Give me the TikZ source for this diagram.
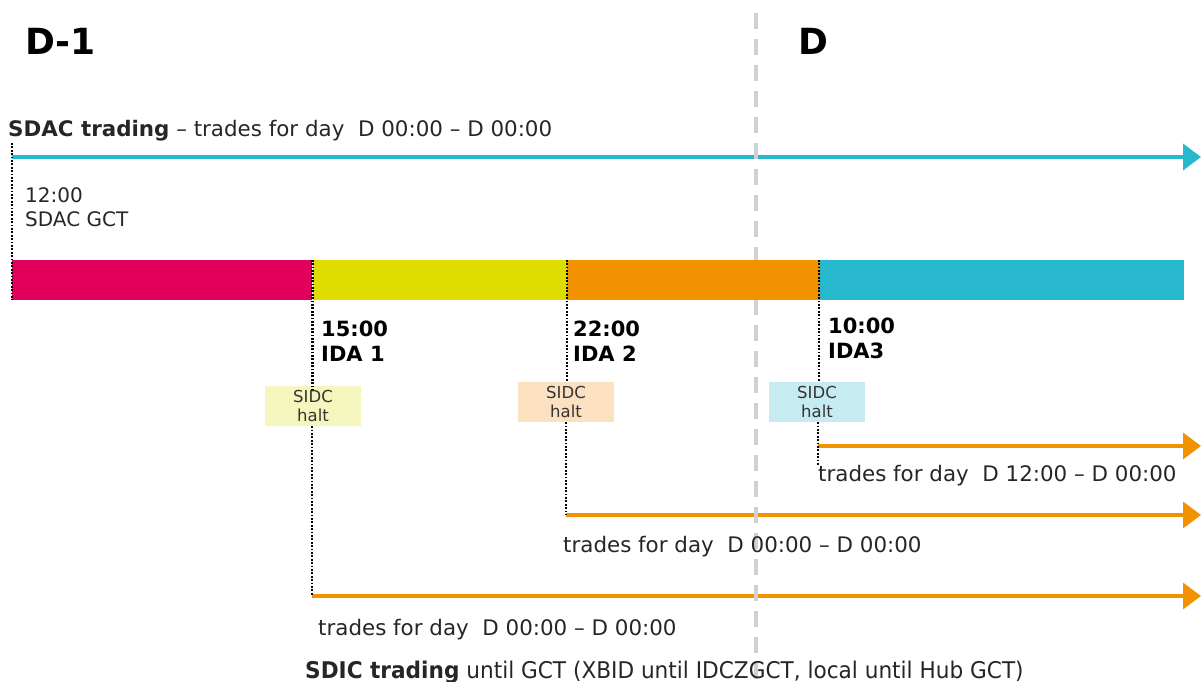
\documentclass[tikz,border=0pt]{standalone}
\usepackage{fontspec}
\setmainfont{DejaVu Sans}
\newfontfamily\narrowfont[FakeStretch=0.94]{DejaVu Sans}
\usetikzlibrary{positioning,arrows.meta}
\definecolor{crim}{HTML}{E2005A}
\definecolor{yel}{HTML}{DEDC00}
\definecolor{org}{HTML}{F39200}
\definecolor{cya}{HTML}{27B8CE}
\definecolor{haltyel}{HTML}{F5F5BE}
\definecolor{haltorg}{HTML}{FBE1C0}
\definecolor{haltcya}{HTML}{C6EBF0}
\tikzset{
	txt/.style={anchor=base west, inner sep=0pt, text=black!85, font=\fontsize{21.4}{24}\selectfont},
	ida/.style={anchor=base west, inner sep=0pt, align=left, font=\bfseries\fontsize{21}{25}\selectfont},
	seg/.style={inner sep=0pt, minimum height=40pt, anchor=west},
	halt/.style={inner sep=0pt, minimum width=96pt, minimum height=40pt, align=center, text=black!80, font=\fontsize{16.5}{19}\selectfont},
	gct/.style={line width=2.2pt, dash pattern=on 1.8pt off 1.6pt},
	sidc/.style={org, line width=3.5pt, -{Triangle[length=18pt,width=26pt]}},
	sdac/.style={cya, line width=4pt, -{Triangle[length=18pt,width=26pt]}},
}
\begin{document}
\begin{tikzpicture}[x=1pt,y=-1pt]
	\useasboundingbox (0,0) rectangle (1201,682);

	\node[ida, font=\bfseries\fontsize{36}{40}\selectfont] (dm1) at (25,55) {D-1};
	\node[ida, font=\bfseries\fontsize{36}{40}\selectfont] (d) at (798,55) {D};

	\node[txt] (sdac) at (8,136) {\textbf{SDAC trading} -- trades for day\ \ D 00:00 -- D 00:00};
	\coordinate (sdac0) at (12,157);
	\coordinate (sdac1) at (1201,157);
	\draw[sdac] (sdac0) -- (sdac1);

	\node[txt, align=left, font=\fontsize{20}{24}\selectfont] (gctlbl) at (25,226) {12:00\\SDAC GCT};

	\coordinate (a1) at (312,596);
	\coordinate (a2) at (566,515);
	\coordinate (a3) at (818,446);
	\coordinate (e1) at (1201,596);
	\coordinate (e2) at (1201,515);
	\coordinate (e3) at (1201,446);
	\coordinate (t3) at (818,465);

	\draw[sidc] (a3) -- (e3);
	\draw[sidc] (a2) -- (e2);
	\draw[sidc] (a1) -- (e1);

	\coordinate (dtop) at (756,13);
	\coordinate (dbot) at (756,682);
	\draw[black!18, line width=4.5pt, dash pattern=on 16pt off 10pt] (dtop) -- (dbot);

	\node[seg, fill=crim, minimum width=300pt] (s0) at (12,280) {};
	\node[seg, fill=yel, minimum width=254pt, right=0pt of s0] (s1) {};
	\node[seg, fill=org, minimum width=252pt, right=0pt of s1] (s2) {};
	\node[seg, fill=cya, minimum width=365pt, right=0pt of s2] (s3) {};

	\coordinate (gcttop) at (12,143);
	\draw[gct] (gcttop) -- (s0.south west);

	\node[ida] (ida1) at (321,361) {15:00\\IDA 1};
	\node[ida] (ida2) at (573,361) {22:00\\IDA 2};
	\node[ida] (ida3) at (828,358) {10:00\\IDA3};

	\node[halt, fill=haltyel] (h1) at (313,406) {SIDC\\halt};
	\node[halt, fill=haltorg] (h2) at (566,402) {SIDC\\halt};
	\node[halt, fill=haltcya] (h3) at (817,402) {SIDC\\halt};

	\draw[gct] (s1.north west) -- ([yshift=-4pt]h1.north -| s1.north west);
	\draw[gct] (h1.south -| a1) -- (a1);
	\draw[gct] (s2.north west) -- (h2.north -| s2.north west);
	\draw[gct] (h2.south -| a2) -- (a2);
	\draw[gct] (s3.north west) -- (h3.north -| s3.north west);
	\draw[gct] (h3.south -| a3) -- (t3);

	\node[txt] (tr3) at (818,481) {trades for day\ \ D 12:00 -- D 00:00};
	\node[txt] (tr2) at (563,552) {trades for day\ \ D 00:00 -- D 00:00};
	\node[txt] (tr1) at (318,635) {trades for day\ \ D 00:00 -- D 00:00};

	\node[txt, font=\narrowfont\fontsize{23}{26}\selectfont] (sdic) at (305,678) {\textbf{SDIC trading} until GCT (XBID until IDCZGCT, local until Hub GCT)};
\end{tikzpicture}
\end{document}
